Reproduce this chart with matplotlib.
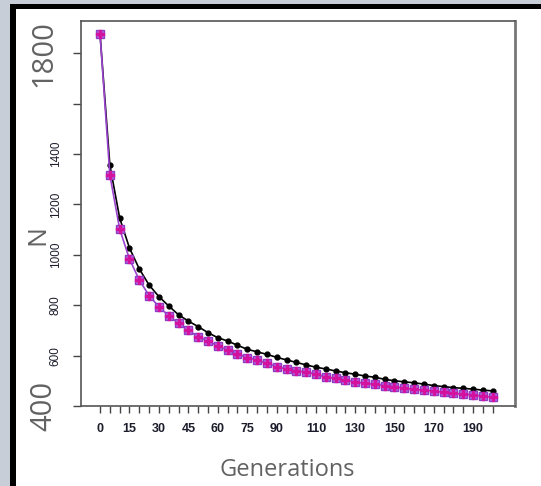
import matplotlib.pyplot as plt
from matplotlib.patches import Rectangle

# generations sampled every 5 steps
generations = list(range(0, 201, 5))

# black series
n_black = [1876, 1356, 1146, 1027, 944, 880, 834, 797, 762, 737,
           715, 691, 671, 658, 641, 625, 615, 605, 593, 583,
           573, 563, 554, 547, 539, 532, 526, 519, 514, 506,
           500, 496, 492, 487, 481, 477, 473, 470, 467, 463, 460]

# magenta / purple series
n_magenta = [1876, 1317, 1102, 983, 900, 838, 794, 758, 728, 700,
             675, 658, 638, 622, 606, 592, 583, 569, 556, 547,
             540, 534, 527, 514, 510, 503, 496, 490, 486, 481,
             477, 470, 466, 463, 460, 454, 450, 448, 444, 440, 435]

y_ticks = [400, 600, 800, 1000, 1200, 1400, 1600, 1800]
y_labels_small = ["", "600", "800", "1000", "1200", "1400", "", ""]
y_labels_big = [400, 1800]
x_labels_shown = [0, 15, 30, 45, 60, 75, 90, 110, 130, 150, 170, 190]

W, H = 541, 486
fig = plt.figure(figsize=(W / 100, H / 100), dpi=100)
fig.patch.set_facecolor("#c7ced8")

# white page with black frame, kept behind the axes
fig.add_artist(Rectangle((10 / W, 0), 1, 1 - 4 / H, transform=fig.transFigure,
                         facecolor="white", edgecolor="none", zorder=-3))
fig.add_artist(Rectangle((10 / W, 1 - 9 / H), 1, 5 / H, transform=fig.transFigure,
                         facecolor="black", edgecolor="none", zorder=-2))
fig.add_artist(Rectangle((10 / W, 0), 6 / W, 1 - 4 / H, transform=fig.transFigure,
                         facecolor="black", edgecolor="none", zorder=-2))

ax = fig.add_axes([81 / W, 1 - 406 / H, 434 / W, 385 / H])
ax.set_facecolor("white")

ax.plot(generations, n_black, color="black", lw=1.2, marker="o", ms=3.5,
        mfc="black", mec="black", zorder=3)
ax.plot(generations, n_magenta, color="#9a44d0", lw=1.2, marker="s", ms=6,
        mfc="#b36be0", mec="#8d3cc4", mew=1, zorder=4)
ax.plot(generations, n_magenta, ls="none", marker="P", ms=6,
        mfc="#d3129f", mec="#d3129f", zorder=5)

ax.set_xlim(-9.7, 211.4)
ax.set_ylim(400, 1928)

light = dict(family="Open Sans", color="#626262")

ax.set_xticks(generations)
ax.set_xticklabels([str(g) if g in x_labels_shown else "" for g in generations],
                   fontsize=9, fontweight="bold", color="#1c1c2c",
                   family="Liberation Sans")
ax.set_yticks(y_ticks)
ax.set_yticklabels(y_labels_small, rotation=90, va="center", fontsize=8.5,
                   color="#1c1c2c", family="Liberation Sans")

# the two large end labels sit further left than the small ones
for v in y_labels_big:
    ax.text(-0.085, v, str(v), transform=ax.get_yaxis_transform(),
            rotation=90, ha="center", va="center", fontsize=21,
            clip_on=False, **light)

ax.tick_params(axis="x", length=5, width=1, color="#444444", pad=7)
ax.tick_params(axis="y", length=6, width=1, color="#444444", pad=8)

for side in ["left", "bottom", "top"]:
    ax.spines[side].set_color("#555555")
    ax.spines[side].set_linewidth(1.2)
ax.spines["right"].set_color("#777777")
ax.spines["right"].set_linewidth(2)

ax.set_xlabel("Generations", fontsize=17, **light)
ax.xaxis.set_label_coords(0.475, -0.135)
ax.set_ylabel("N", fontsize=19, **light)
ax.yaxis.set_label_coords(-0.07, 0.445)

fig.savefig("out.png", dpi=100)
